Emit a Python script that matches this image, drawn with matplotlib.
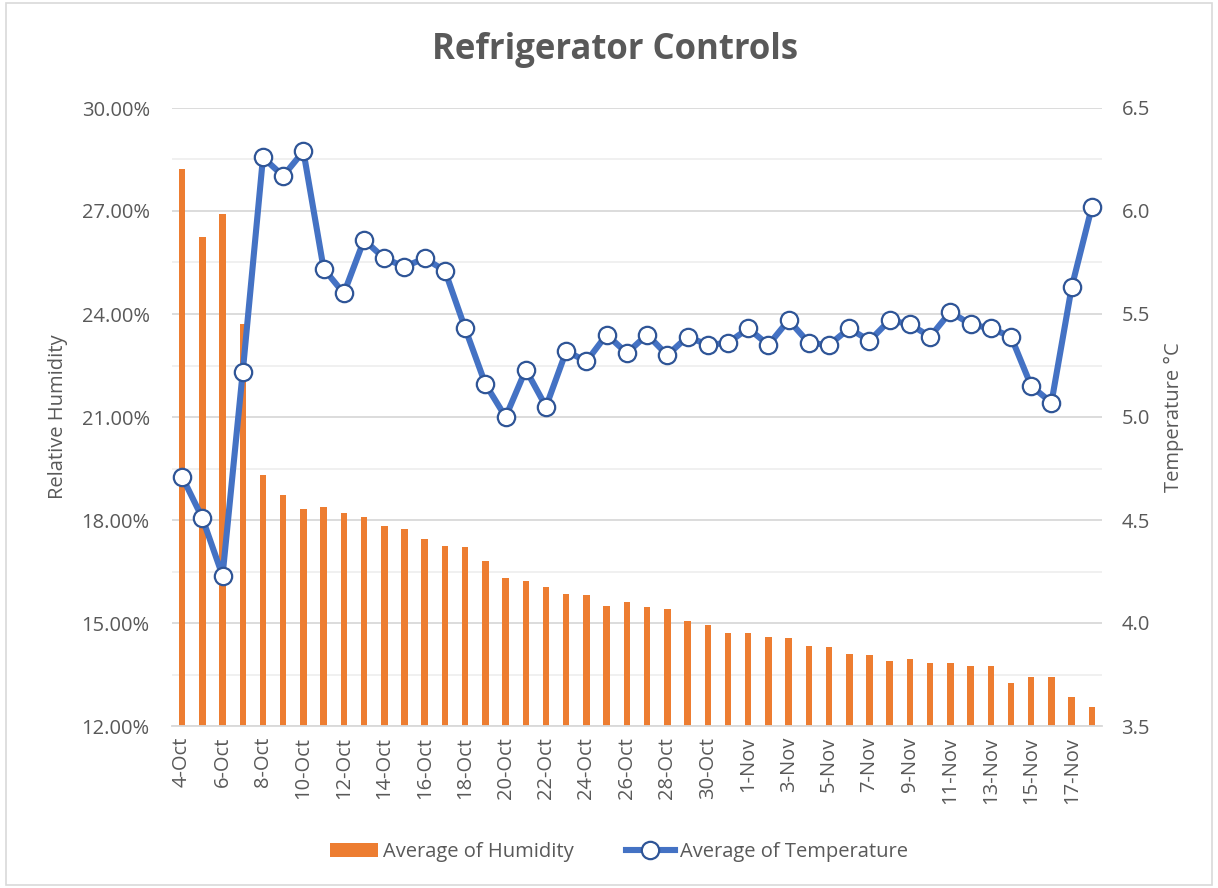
import matplotlib
matplotlib.use("Agg")
import matplotlib.pyplot as plt
import numpy as np
from matplotlib.patches import Rectangle
from matplotlib.ticker import FuncFormatter, MultipleLocator

dates = ["4-Oct", "5-Oct", "6-Oct", "7-Oct", "8-Oct", "9-Oct", "10-Oct", "11-Oct", "12-Oct",
         "13-Oct", "14-Oct", "15-Oct", "16-Oct", "17-Oct", "18-Oct", "19-Oct", "20-Oct",
         "21-Oct", "22-Oct", "23-Oct", "24-Oct", "25-Oct", "26-Oct", "27-Oct", "28-Oct",
         "29-Oct", "30-Oct", "31-Oct", "1-Nov", "2-Nov", "3-Nov", "4-Nov", "5-Nov", "6-Nov",
         "7-Nov", "8-Nov", "9-Nov", "10-Nov", "11-Nov", "12-Nov", "13-Nov", "14-Nov",
         "15-Nov", "16-Nov", "17-Nov", "18-Nov"]

humidity = [28.22, 26.24, 26.90, 23.71, 19.31, 18.72, 18.33, 18.37, 18.21, 18.10,
            17.83, 17.75, 17.44, 17.24, 17.20, 16.81, 16.31, 16.23, 16.04, 15.85,
            15.81, 15.50, 15.61, 15.46, 15.42, 15.07, 14.94, 14.71, 14.71, 14.59,
            14.56, 14.33, 14.29, 14.10, 14.06, 13.89, 13.94, 13.83, 13.83, 13.75,
            13.75, 13.24, 13.43, 13.43, 12.84, 12.54]

temperature = [4.71, 4.51, 4.23, 5.22, 6.26, 6.17, 6.29, 5.72, 5.60, 5.86,
               5.77, 5.73, 5.77, 5.71, 5.43, 5.16, 5.00, 5.23, 5.05, 5.32,
               5.27, 5.40, 5.31, 5.40, 5.30, 5.39, 5.35, 5.36, 5.43, 5.35,
               5.47, 5.36, 5.35, 5.43, 5.37, 5.47, 5.45, 5.39, 5.51, 5.45,
               5.43, 5.39, 5.15, 5.07, 5.63, 6.02]

title = "Refrigerator Controls"
humidity_label = "Average of Humidity"
temperature_label = "Average of Temperature"

plt.rcParams['font.family'] = ['Open Sans', 'DejaVu Sans']
TXT = "#595959"
ORANGE = "#ED7D31"
BLUE = "#4472C4"
FS = 14.5

fig = plt.figure(figsize=(12.18, 8.88), dpi=100)
fig.patches.append(Rectangle((0.005, 0.003), 0.99, 0.994, transform=fig.transFigure,
                             fill=False, edgecolor="#d9d9d9", linewidth=1.2))

ax = fig.add_axes([172/1218, 1-726/888, 930/1218, 618/888])
x = np.arange(len(dates))
ax.bar(x, humidity, width=0.32, color=ORANGE, zorder=2, label=humidity_label)
ax.set_ylim(12, 30)
ax.set_xlim(-0.5, len(dates)-0.5)
ax.yaxis.set_major_locator(MultipleLocator(3))
ax.yaxis.set_minor_locator(MultipleLocator(1.5))
ax.yaxis.set_major_formatter(FuncFormatter(lambda v, p: f"{v:.2f}%"))
ax.grid(axis='y', which='major', color="#d9d9d9", linewidth=1.3, zorder=0)
ax.grid(axis='y', which='minor', color="#efefef", linewidth=1.3, zorder=0)
ax.set_axisbelow(True)
for s in ['top', 'right', 'left']:
    ax.spines[s].set_visible(False)
ax.spines['bottom'].set_color("#d9d9d9")
ax.spines['bottom'].set_linewidth(1.3)
ax.tick_params(axis='y', which='both', length=0, labelsize=FS, labelcolor=TXT, pad=16)
ax.set_xticks(x[::2])
ax.set_xticklabels(dates[::2], rotation=90)
ax.tick_params(axis='x', length=0, labelsize=FS, labelcolor=TXT, pad=8)
ax.set_ylabel("Relative Humidity", fontsize=FS, color=TXT, labelpad=10)

ax2 = ax.twinx()
ax2.plot(x, temperature, color=BLUE, linewidth=4.4, marker='o', markersize=12.5,
         markerfacecolor='white', markeredgecolor="#2F5597", markeredgewidth=1.6,
         zorder=3, label=temperature_label)
ax2.set_ylim(3.5, 6.5)
ax2.yaxis.set_major_locator(MultipleLocator(0.5))
ax2.yaxis.set_major_formatter(FuncFormatter(lambda v, p: f"{v:.1f}"))
for s in ['top', 'right', 'left', 'bottom']:
    ax2.spines[s].set_visible(False)
ax2.tick_params(axis='y', which='both', length=0, labelsize=FS, labelcolor=TXT, pad=14)
ax2.set_ylabel("Temperature °C", fontsize=FS, color=TXT, labelpad=10)

fig.text(0.505, 1-50/888, title, ha='center', va='center', fontsize=25,
         fontweight='bold', color=TXT)

h1, l1 = ax.get_legend_handles_labels()
h2, l2 = ax2.get_legend_handles_labels()
leg = fig.legend(h1 + h2, l1 + l2, loc='center', bbox_to_anchor=(0.508, 1-852/888),
                 ncol=2, frameon=False, fontsize=FS, handlelength=2.4,
                 columnspacing=2.6, handletextpad=0.25)
for t in leg.get_texts():
    t.set_color(TXT)

fig.savefig("out.png", dpi=100)
